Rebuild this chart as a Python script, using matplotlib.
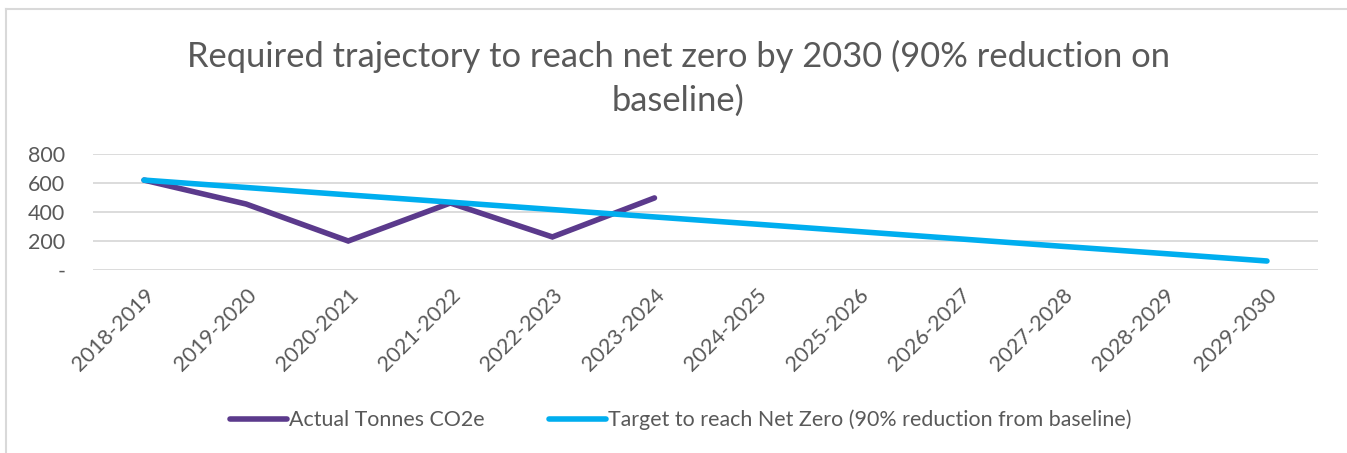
import matplotlib.pyplot as plt
from matplotlib.lines import Line2D

years = ["2018-2019", "2019-2020", "2020-2021", "2021-2022", "2022-2023", "2023-2024",
         "2024-2025", "2025-2026", "2026-2027", "2027-2028", "2028-2029", "2029-2030"]
actual = [620, 455, 200, 462, 228, 497]
target = [620, 569, 518, 468, 417, 366, 316, 265, 214, 163, 113, 62]
yticks = [0, 200, 400, 600, 800]
ytick_labels = ["-", "200", "400", "600", "800"]

grey = "#595959"
purple = "#5B3A8C"
blue = "#00AEEF"

plt.rcParams['font.family'] = ['Lato', 'DejaVu Sans']

fig = plt.figure(figsize=(13.47, 4.53), dpi=100)
ax = fig.add_axes([93/1347, 1-270/453, 1225/1347, 116/453])

x = list(range(len(years)))
ax.plot(x[:len(actual)], actual, color=purple, lw=4, solid_capstyle='round',
        solid_joinstyle='miter', label="Actual Tonnes CO2e", zorder=3)
ax.plot(x, target, color=blue, lw=4, solid_capstyle='round',
        label="Target to reach Net Zero (90% reduction from baseline)", zorder=4)

ax.set_xlim(-0.5, len(years) - 0.5)
ax.set_ylim(0, 800)
ax.set_yticks(yticks)
ax.set_yticklabels(ytick_labels, fontsize=15.5, color=grey)
ax.set_xticks(x)
ax.set_xticklabels(years, rotation=45, ha='right', rotation_mode='anchor',
                   fontsize=15.5, color=grey)
ax.tick_params(length=0)
ax.tick_params(axis='y', pad=20)
ax.tick_params(axis='x', pad=11)
ax.grid(axis='y', color='#D9D9D9', lw=1.3)
ax.set_axisbelow(True)
for s in ax.spines.values():
    s.set_visible(False)

fig.text(0.5035, 1-78/453, "Required trajectory to reach net zero by 2030 (90% reduction on\nbaseline)",
         ha='center', va='center', fontsize=24.8, color=grey, linespacing=1.45)

fig.legend(loc='center', bbox_to_anchor=(0.5056, 1-420/453), ncol=2, frameon=False,
           fontsize=15.4, labelcolor=grey, handlelength=2.67, handletextpad=0.1,
           columnspacing=3.0)

# chart border
fig.add_artist(Line2D([6/1347, 1], [1-9/453, 1-9/453], color='#D9D9D9', lw=1.5))
fig.add_artist(Line2D([6/1347, 6/1347], [0, 1-9/453], color='#D9D9D9', lw=1.5))

fig.savefig("out.png", dpi=100)
